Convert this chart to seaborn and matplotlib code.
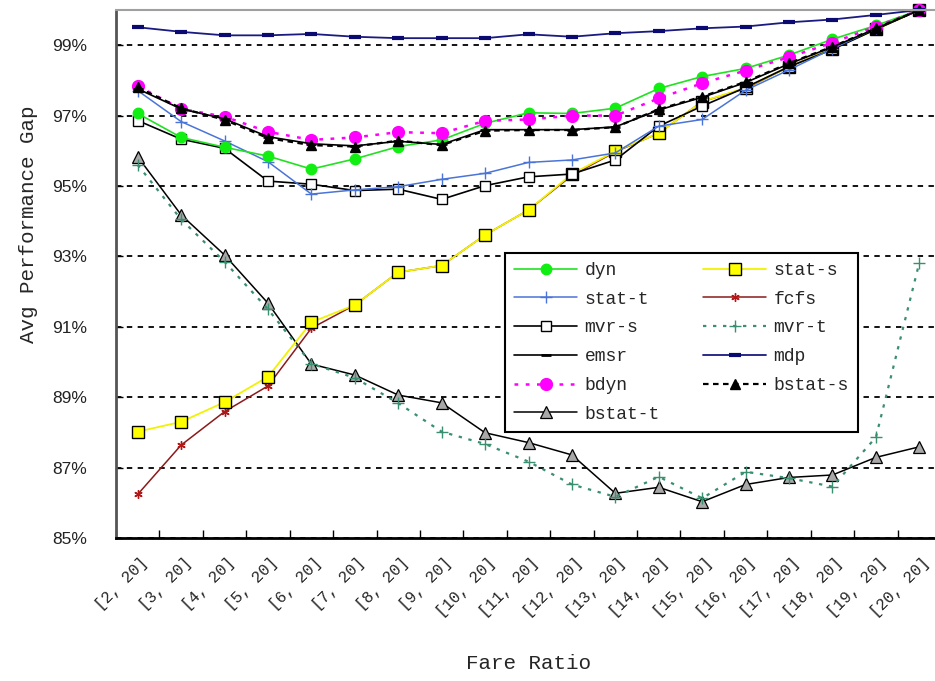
import numpy as np
import pandas as pd
import matplotlib
matplotlib.use("Agg")
import matplotlib.pyplot as plt
from matplotlib.lines import Line2D
import seaborn as sns

# Fare ratio scenarios on the x axis
categories = [f"[{k}, 20]" for k in range(2, 21)]

# Average performance gap (%) of each policy
dyn = [97.06, 96.38, 96.10, 95.85, 95.48, 95.77, 96.12, 96.31, 96.78, 97.08,
       97.06, 97.21, 97.77, 98.11, 98.34, 98.72, 99.17, 99.56, 100.0]
stat_s = [88.02, 88.30, 88.86, 89.58, 91.13, 91.62, 92.55, 92.74, 93.61, 94.32,
          95.34, 95.99, 96.50, 97.40, 97.79, 98.39, 98.90, 99.45, 100.0]
stat_t = [97.71, 96.83, 96.28, 95.69, 94.77, 94.89, 94.98, 95.19, 95.36, 95.67,
          95.74, 95.94, 96.70, 96.89, 97.72, 98.30, 98.90, 99.48, 100.0]
fcfs = [86.24, 87.64, 88.59, 89.32, 90.96, 91.62, 92.55, 92.74, 93.61, 94.32,
        95.30, 95.97, 96.50, 97.40, 97.77, 98.39, 98.90, 99.45, 100.0]
mvr_s = [96.86, 96.33, 96.07, 95.14, 95.05, 94.87, 94.91, 94.62, 95.01, 95.26,
         95.34, 95.74, 96.70, 97.27, 97.80, 98.39, 98.88, 99.45, 100.0]
mvr_t = [95.60, 94.05, 92.85, 91.50, 89.95, 89.55, 88.83, 88.02, 87.67, 87.17,
         86.52, 86.17, 86.74, 86.13, 86.88, 86.70, 86.46, 87.86, 92.82]
emsr = [97.76, 97.19, 96.91, 96.40, 96.20, 96.14, 96.27, 96.18, 96.60, 96.60,
        96.60, 96.68, 97.16, 97.52, 97.94, 98.47, 98.95, 99.47, 100.0]
mdp = [99.51, 99.38, 99.28, 99.28, 99.32, 99.24, 99.20, 99.20, 99.20, 99.31,
       99.24, 99.34, 99.40, 99.48, 99.53, 99.65, 99.73, 99.86, 100.0]
bdyn = [97.84, 97.19, 96.97, 96.54, 96.31, 96.38, 96.53, 96.50, 96.85, 96.89,
        97.00, 97.00, 97.49, 97.92, 98.28, 98.66, 99.07, 99.53, 100.0]
bstat_s = [97.80, 97.21, 96.88, 96.36, 96.16, 96.12, 96.29, 96.16, 96.57, 96.59,
           96.59, 96.67, 97.18, 97.54, 97.96, 98.49, 98.96, 99.48, 100.0]
bstat_t = [95.83, 94.18, 93.04, 91.67, 89.94, 89.63, 89.06, 88.84, 87.99, 87.71,
           87.36, 86.27, 86.44, 86.03, 86.52, 86.72, 86.79, 87.29, 87.59]

y_ticks = [85, 87, 89, 91, 93, 95, 97, 99]

series = {
    "dyn": dyn, "stat-s": stat_s, "stat-t": stat_t, "fcfs": fcfs,
    "mvr-s": mvr_s, "mvr-t": mvr_t, "emsr": emsr, "mdp": mdp,
    "bdyn": bdyn, "bstat-s": bstat_s, "bstat-t": bstat_t,
}

styles = {
    "dyn": dict(color="#22E022", ls="-", lw=1.2, marker="o", ms=7.5,
                mfc="#11EE11", mec="#11EE11"),
    "stat-s": dict(color="#F2F200", ls="-", lw=1.3, marker="s", ms=8,
                   mfc="#FFFF00", mec="black", mew=1.0),
    "stat-t": dict(color="#4A74D8", ls="-", lw=1.1, marker="+", ms=9,
                   mfc="#4A74D8", mec="#4A74D8", mew=1.0),
    "fcfs": dict(color="#8B1A1A", ls="-", lw=1.1, marker=(6, 2, 0), ms=6,
                 mfc="#B01818", mec="#B01818", mew=1.0),
    "mvr-s": dict(color="black", ls="-", lw=1.2, marker="s", ms=6.5,
                  mfc="white", mec="black", mew=1.0),
    "mvr-t": dict(color="#3A8F70", ls=(0, (1.5, 3)), lw=1.6, marker="+", ms=9,
                  mfc="#3A8F70", mec="#3A8F70", mew=1.0),
    "emsr": dict(color="black", ls="-", lw=1.2, marker="_", ms=7,
                 mfc="black", mec="black", mew=2.0),
    "mdp": dict(color="#1A1A80", ls="-", lw=1.3, marker="_", ms=9,
                mfc="#0A0A70", mec="#0A0A70", mew=3.0),
    "bdyn": dict(color="#FF00FF", ls=(0, (1.5, 3)), lw=1.8, marker="o", ms=8.5,
                 mfc="#FF00FF", mec="#FF00FF"),
    "bstat-s": dict(color="black", ls=(0, (2.5, 2)), lw=1.6, marker="^", ms=7,
                    mfc="black", mec="black"),
    "bstat-t": dict(color="black", ls="-", lw=1.1, marker="^", ms=9,
                    mfc="#A8A8A8", mec="black", mew=0.9),
}

draw_order = ["bstat-t", "mvr-t", "fcfs", "stat-s", "mvr-s", "stat-t", "dyn",
              "bdyn", "emsr", "bstat-s", "mdp"]
legend_order = ["dyn", "stat-t", "mvr-s", "emsr", "bdyn", "bstat-t",
                "stat-s", "fcfs", "mvr-t", "mdp", "bstat-s"]

rows = []
for name, vals in series.items():
    for i, v in enumerate(vals):
        rows.append({"policy": name, "pos": i, "gap": v})
df = pd.DataFrame(rows)

sns.set_style("white")
mono = "Liberation Mono"

fig = plt.figure(figsize=(9.35, 6.81), dpi=100)
ax = fig.add_axes([116 / 935, 143 / 681, 825 / 935, 528 / 681])

for name in draw_order:
    st = styles[name]
    sub = df[df["policy"] == name]
    sns.lineplot(data=sub, x="pos", y="gap", ax=ax, color=st["color"],
                 linestyle=st["ls"], linewidth=st["lw"], marker=st["marker"],
                 markersize=st["ms"], markerfacecolor=st["mfc"],
                 markeredgecolor=st["mec"], markeredgewidth=st.get("mew", 1.0),
                 legend=False, clip_on=False, errorbar=None)

n = len(categories)
ax.set_xlim(-0.5, n - 0.5)
ax.set_ylim(y_ticks[0], 100)

# category boundaries carry the tick marks; the slanted labels hang just
# right of each category centre so their upper end sits over the point
ax.set_xticks(np.arange(n + 1) - 0.5)
ax.set_xticklabels([])
ax.set_xticks(np.arange(n) + 0.18, minor=True)
ax.set_xticklabels(categories, minor=True, rotation=45, ha="right",
                   va="center", rotation_mode="anchor",
                   fontfamily=mono, fontsize=11.5)
ax.tick_params(axis="x", which="major", direction="in", length=6, width=1,
               color="black", bottom=True)
ax.tick_params(axis="x", which="minor", length=0, pad=16)

ax.set_yticks(y_ticks)
ax.set_yticklabels([f"{t}%" for t in y_ticks], fontfamily="Liberation Sans",
                   fontsize=12.5, color="#222222")
ax.tick_params(axis="y", direction="in", length=5, width=1, color="black",
               left=True, pad=21)

ax.grid(False)
ax.yaxis.grid(True, color="black", linestyle=(0, (3, 3)), linewidth=1.3)
ax.set_axisbelow(True)

ax.spines["right"].set_visible(False)
ax.spines["left"].set_color("#555555")
ax.spines["left"].set_linewidth(2)
ax.spines["bottom"].set_color("black")
ax.spines["bottom"].set_linewidth(2)
ax.spines["top"].set_color("#A0A0A0")
ax.spines["top"].set_linewidth(1.5)

ax.set_xlabel("Fare Ratio", fontfamily=mono, fontsize=15, va="center")
ax.xaxis.set_label_coords(0.5, -0.237)
ax.set_ylabel("Avg Performance Gap", fontfamily=mono, fontsize=15,
              va="center", ha="center")
ax.yaxis.set_label_coords(-0.106, 0.595)

handles = []
for name in legend_order:
    st = styles[name]
    handles.append(Line2D([], [], color=st["color"], linestyle=st["ls"],
                          linewidth=st["lw"], marker=st["marker"],
                          markersize=st["ms"], markerfacecolor=st["mfc"],
                          markeredgecolor=st["mec"],
                          markeredgewidth=st.get("mew", 1.0), label=name))
leg = ax.legend(handles=handles, ncol=2, loc="upper left",
                bbox_to_anchor=(0.4715, 0.5398), borderaxespad=0,
                prop={"family": mono, "size": 13}, frameon=True,
                fancybox=False, framealpha=1, edgecolor="black",
                handlelength=3.5, handletextpad=0.4, columnspacing=2.4,
                labelspacing=0.65, borderpad=0.5)
leg.get_frame().set_linewidth(1.5)

fig.savefig("out.png", dpi=100, facecolor="white")
